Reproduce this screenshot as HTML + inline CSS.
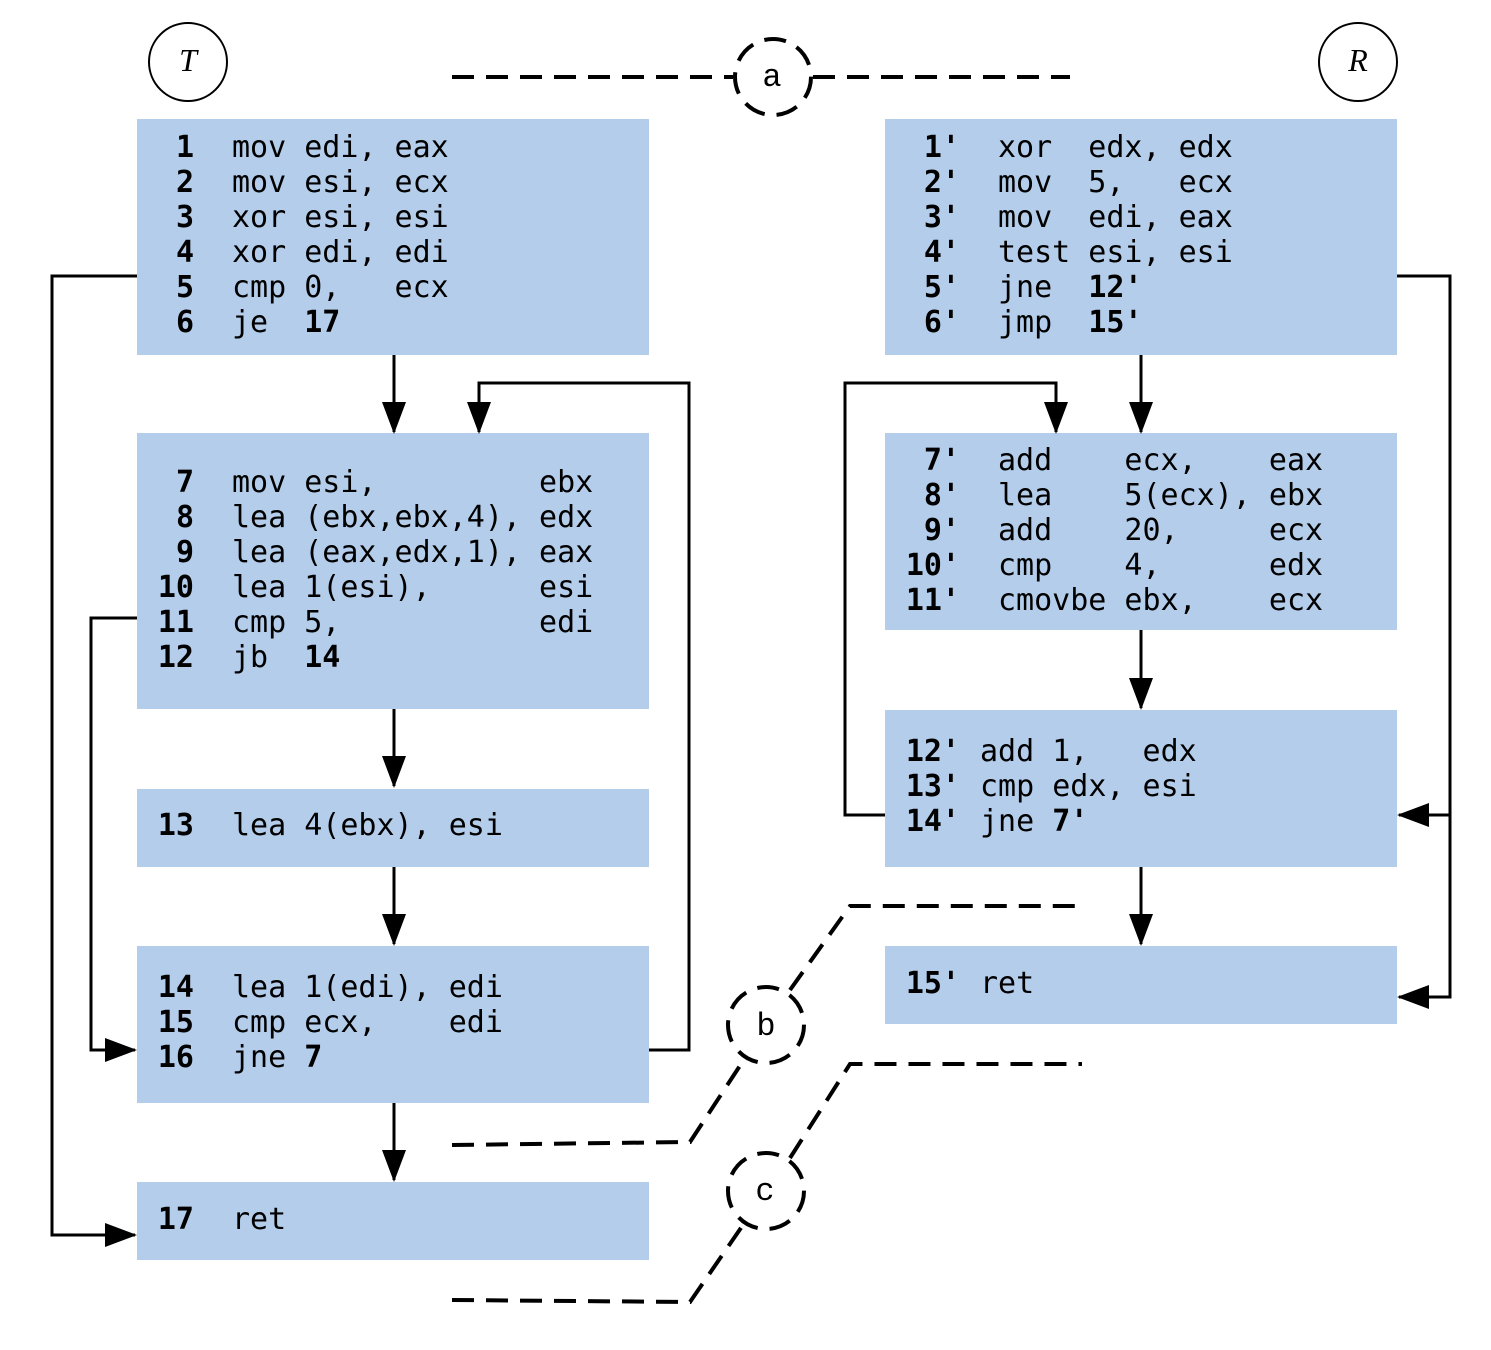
<!DOCTYPE html>
<html><head><meta charset="utf-8"><style>body{margin:0;background:#fff}svg{display:block}
.c{font-family:"DejaVu Sans Mono","Liberation Mono",monospace;font-size:30px;fill:#000}
.c text{white-space:pre}
.b{font-weight:bold}</style></head><body>
<svg width="1491" height="1350" viewBox="0 0 1491 1350" xmlns="http://www.w3.org/2000/svg">
<defs>
<marker id="a2" markerWidth="32" markerHeight="24" refX="30" refY="12" orient="auto" markerUnits="userSpaceOnUse"><path d="M0,0 L32,12 L0,24 Z" fill="#000"/></marker></defs>
<g fill="#b3cdea">
<rect x="137" y="119" width="512" height="236"/><rect x="137" y="433" width="512" height="276"/>
<rect x="137" y="789" width="512" height="78"/><rect x="137" y="946" width="512" height="157"/>
<rect x="137" y="1182" width="512" height="78"/>
<rect x="885" y="119" width="512" height="236"/><rect x="885" y="433" width="512" height="197"/>
<rect x="885" y="710" width="512" height="157"/><rect x="885" y="946" width="512" height="78"/>
</g>
<g fill="none" stroke="#000" stroke-width="3">
<ellipse cx="188" cy="62" rx="39" ry="39" stroke-width="2"/><ellipse cx="1358" cy="62" rx="39" ry="39" stroke-width="2"/>
<g marker-end="url(#a2)">
<path d="M394,355V432"/><path d="M649,1050H689V383H479V432"/>
<path d="M137,276H52V1235H135"/><path d="M137,618H91V1050H135"/>
<path d="M394,709V786"/><path d="M394,867V944"/><path d="M394,1103V1180"/>
<path d="M1141,355V432"/><path d="M885,815H845V383H1056V432"/>
<path d="M1141,630V708"/><path d="M1141,867V944"/>
<path d="M1397,276H1450V997H1399"/><path d="M1450,815H1399"/>
</g>
<g stroke-dasharray="22,12" stroke-width="4">
<circle cx="773" cy="77" r="38"/><circle cx="766" cy="1025" r="38"/><circle cx="766" cy="1191" r="38"/>
<path d="M452,77H733M813,77H1070"/>
<path d="M452,1145L690,1142L745,1058"/><path d="M790,990L850,906H1082"/>
<path d="M452,1300L690,1302L745,1222"/><path d="M790,1158L850,1064H1082"/>
</g></g>
<text x="188" y="71" text-anchor="middle" font-family="Liberation Serif,serif" font-style="italic" font-size="32">T</text>
<text x="1358" y="71" text-anchor="middle" font-family="Liberation Serif,serif" font-style="italic" font-size="32">R</text>
<g font-family="Liberation Mono,monospace" font-size="32" text-anchor="middle"><text x="772" y="86">a</text><text x="766" y="1035">b</text><text x="765" y="1200">c</text></g>
<g class="c">
<g class="b" text-anchor="end"><text x="194" y="157">1</text><text x="194" y="192">2</text><text x="194" y="227">3</text><text x="194" y="262">4</text><text x="194" y="297">5</text><text x="194" y="332">6</text>
<text x="194" y="492">7</text><text x="194" y="527">8</text><text x="194" y="562">9</text><text x="194" y="597">10</text><text x="194" y="632">11</text><text x="194" y="667">12</text>
<text x="194" y="835">13</text><text x="194" y="997">14</text><text x="194" y="1032">15</text><text x="194" y="1067">16</text><text x="194" y="1229">17</text>
<text x="960" y="157">1'</text><text x="960" y="192">2'</text><text x="960" y="227">3'</text><text x="960" y="262">4'</text><text x="960" y="297">5'</text><text x="960" y="332">6'</text>
<text x="960" y="470">7'</text><text x="960" y="505">8'</text><text x="960" y="540">9'</text><text x="960" y="575">10'</text><text x="960" y="610">11'</text>
<text x="960" y="761">12'</text><text x="960" y="796">13'</text><text x="960" y="831">14'</text><text x="960" y="993">15'</text></g>
<text x="232" y="157">mov edi, eax</text><text x="232" y="192">mov esi, ecx</text><text x="232" y="227">xor esi, esi</text><text x="232" y="262">xor edi, edi</text><text x="232" y="297">cmp 0,   ecx</text><text x="232" y="332">je  <tspan class="b">17</tspan></text>
<text x="232" y="492">mov esi,         ebx</text><text x="232" y="527">lea (ebx,ebx,4), edx</text><text x="232" y="562">lea (eax,edx,1), eax</text><text x="232" y="597">lea 1(esi),      esi</text><text x="232" y="632">cmp 5,           edi</text><text x="232" y="667">jb  <tspan class="b">14</tspan></text>
<text x="232" y="835">lea 4(ebx), esi</text>
<text x="232" y="997">lea 1(edi), edi</text><text x="232" y="1032">cmp ecx,    edi</text><text x="232" y="1067">jne <tspan class="b">7</tspan></text>
<text x="232" y="1229">ret</text>
<text x="998" y="157">xor  edx, edx</text><text x="998" y="192">mov  5,   ecx</text><text x="998" y="227">mov  edi, eax</text><text x="998" y="262">test esi, esi</text><text x="998" y="297">jne  <tspan class="b">12'</tspan></text><text x="998" y="332">jmp  <tspan class="b">15'</tspan></text>
<text x="998" y="470">add    ecx,    eax</text><text x="998" y="505">lea    5(ecx), ebx</text><text x="998" y="540">add    20,     ecx</text><text x="998" y="575">cmp    4,      edx</text><text x="998" y="610">cmovbe ebx,    ecx</text>
<text x="980" y="761">add 1,   edx</text><text x="980" y="796">cmp edx, esi</text><text x="980" y="831">jne <tspan class="b">7'</tspan></text>
<text x="980" y="993">ret</text>
</g>
</svg>
</body></html>
